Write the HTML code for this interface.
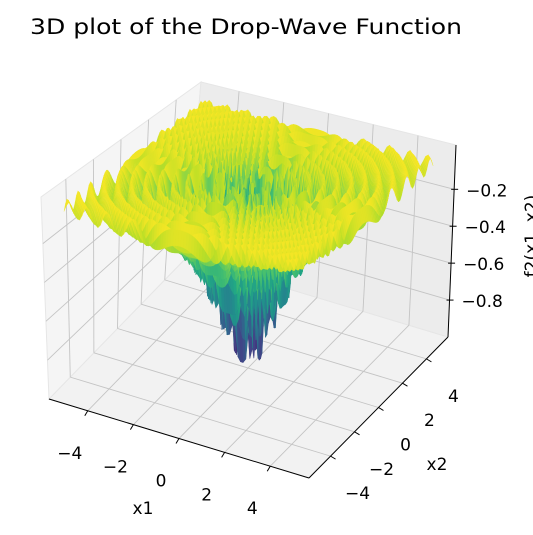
<!DOCTYPE html>
<html><head><meta charset="utf-8"><style>
body{margin:0;background:#fff;}
svg{display:block;font-family:"DejaVu Sans","Liberation Sans",sans-serif;}
</style></head><body>
<svg id="chart" width="533" height="535" viewBox="0 0 533 535">
<text x="246" y="34" font-size="21" text-anchor="middle" textLength="432" lengthAdjust="spacingAndGlyphs">3D plot of the Drop-Wave Function</text>
<g id="panes"></g><g id="grid"></g><g id="surf"></g><g id="axes"></g>
</svg>
<script>
const x1Ticks=[-4,-2,0,2,4];
const x2Ticks=[-4,-2,0,2,4];
const zTicks=[-0.2,-0.4,-0.6,-0.8];
const zTickLabels=["−0.2","−0.4","−0.6","−0.8"];
const x1TickLabels=["−4","−2","0","2","4"];
const x2TickLabels=["−4","−2","0","2","4"];
const gridN=90;
const gridMin=-5.12, gridMax=5.12;
const x1Vals=[];const x2Vals=[];
for(let i=0;i<gridN;i++){x1Vals.push(gridMin+(gridMax-gridMin)*i/(gridN-1));x2Vals.push(gridMin+(gridMax-gridMin)*i/(gridN-1));}
const zVals=x1Vals.map(a=>x2Vals.map(b=>{const r=Math.sqrt(a*a+b*b);return -(1+Math.cos(12*r))/(0.5*r*r+2);}));

const R={x1:[-5.7,5.7],x2:[-5.8,5.8],z:[-1.0,0.04]};
const B={ '00':[49,399],'10':[309,478],'11':[448,337],'01':[186,258]};
const T={ '00':[41,197],'10':[297,262],'11':[456,145],'01':[201,82]};
const NS="http://www.w3.org/2000/svg";
function lerp(a,b,t){return [a[0]+(b[0]-a[0])*t,a[1]+(b[1]-a[1])*t];}
function bil(C,u,v){return lerp(lerp(C['00'],C['10'],u),lerp(C['01'],C['11'],u),v);}
function proj(x1,x2,z){
 const u=(x1-R.x1[0])/(R.x1[1]-R.x1[0]),v=(x2-R.x2[0])/(R.x2[1]-R.x2[0]),w=(z-R.z[0])/(R.z[1]-R.z[0]);
 return lerp(bil(B,u,v),bil(T,u,v),w);
}
function mk(tag,attrs,parent){const e=document.createElementNS(NS,tag);for(const k in attrs)e.setAttribute(k,attrs[k]);document.getElementById(parent).appendChild(e);return e;}
function pts(a){return a.map(p=>p[0].toFixed(1)+','+p[1].toFixed(1)).join(' ');}
const X0=R.x1[0],X1=R.x1[1],Y0=R.x2[0],Y1=R.x2[1],Z0=R.z[0],Z1=R.z[1];
let p=mk('polygon',{points:pts([proj(X0,Y0,Z0),proj(X1,Y0,Z0),proj(X1,Y1,Z0),proj(X0,Y1,Z0)]),fill:'#f2f2f2',stroke:'#e6e6e6'},'panes');


p=mk('polygon',{points:pts([proj(X0,Y0,Z0),proj(X0,Y1,Z0),proj(X0,Y1,Z1),proj(X0,Y0,Z1)]),fill:'#f5f5f5',stroke:'#e6e6e6'},'panes');


p=mk('polygon',{points:pts([proj(X0,Y1,Z0),proj(X1,Y1,Z0),proj(X1,Y1,Z1),proj(X0,Y1,Z1)]),fill:'#ececec',stroke:'#e6e6e6'},'panes');


function gl(a,b,name){const e=mk('line',{x1:a[0],y1:a[1],x2:b[0],y2:b[1],stroke:'#c4c4c4','stroke-width':0.9},'grid');}
x1Ticks.forEach(t=>{gl(proj(t,Y0,Z0),proj(t,Y1,Z0),'x1-gridline');gl(proj(t,Y1,Z0),proj(t,Y1,Z1),'x1-wall-gridline');});
x2Ticks.forEach(t=>{gl(proj(X1,t,Z0),proj(X0,t,Z0),'x2-gridline');gl(proj(X0,t,Z0),proj(X0,t,Z1),'x2-wall-gridline');});
zTicks.forEach(t=>{gl(proj(X0,Y0,t),proj(X0,Y1,t),'z-gridline-left');gl(proj(X0,Y1,t),proj(X1,Y1,t),'z-gridline-back');});
const vir=['#440154','#482475','#414487','#355f8d','#2a788e','#21918c','#22a884','#44bf70','#7ad151','#bddf26','#fde725'];
function hex(h){return [parseInt(h.substr(1,2),16),parseInt(h.substr(3,2),16),parseInt(h.substr(5,2),16)];}
function cmap(t){t=Math.max(0,Math.min(1,t));const f=t*10,i=Math.min(9,Math.floor(f)),r=f-i;const a=hex(vir[i]),b=hex(vir[i+1]);return 'rgb('+a.map((c,k)=>Math.round(c+(b[k]-c)*r)).join(',')+')';}
let zmin=Infinity,zmax=-Infinity;zVals.forEach(r=>r.forEach(z=>{zmin=Math.min(zmin,z);zmax=Math.max(zmax,z);}));
const quads=[];
for(let i=0;i<gridN-1;i++)for(let j=0;j<gridN-1;j++){
 const zs=[zVals[i][j],zVals[i+1][j],zVals[i+1][j+1],zVals[i][j+1]];
 const zm=(zs[0]+zs[1]+zs[2]+zs[3])/4;
 quads.push({i,j,zm,d:(x1Vals[i]+x1Vals[i+1])/2-(x2Vals[j]+x2Vals[j+1])/2});
}
quads.sort((a,b)=>a.d-b.d);
quads.forEach(q=>{const {i,j}=q;
 const c=cmap((q.zm-zmin)/(zmax-zmin));
 const e=mk('polygon',{points:pts([proj(x1Vals[i],x2Vals[j],zVals[i][j]),proj(x1Vals[i+1],x2Vals[j],zVals[i+1][j]),proj(x1Vals[i+1],x2Vals[j+1],zVals[i+1][j+1]),proj(x1Vals[i],x2Vals[j+1],zVals[i][j+1])]),fill:c,stroke:c,'stroke-width':0.3},'surf');
 
 
});
function ax(a,b,name){const e=mk('line',{x1:a[0],y1:a[1],x2:b[0],y2:b[1],stroke:'#000','stroke-width':1},'axes');}
ax(proj(X0,Y0,Z0),proj(X1,Y0,Z0),'x1-axis-line');
ax(proj(X1,Y0,Z0),proj(X1,Y1,Z0),'x2-axis-line');
ax(proj(X1,Y1,Z0),proj(X1,Y1,Z1),'z-axis-line');
function txt(x,y,s,name,anchor,extra){const e=mk('text',Object.assign({x,y,'font-size':17,'text-anchor':anchor||'middle'},extra||{}),'axes');e.textContent=s;return e;}
x1Ticks.forEach((t,k)=>{const a=proj(t,Y0,Z0);ax([a[0],a[1]],[a[0]-3,a[1]+5],'x1-tick');txt(a[0]-18,a[1]+48,x1TickLabels[k],'x1-tick-label');});
x2Ticks.forEach((t,k)=>{const a=proj(X1,t,Z0);ax([a[0],a[1]],[a[0]+5,a[1]+3],'x2-tick');txt(a[0]+27,a[1]+43,x2TickLabels[k],'x2-tick-label');});
zTicks.forEach((t,k)=>{const a=proj(X1,Y1,t);ax([a[0]-3,a[1]],[a[0]+4,a[1]],'z-tick');txt(a[0]+12,a[1]+7,zTickLabels[k],'z-tick-label','start');});
txt(143,514,'x1','x1-axis-title');
txt(437,470,'x2','x2-axis-title');
txt(0,0,'f2(x1, x2)','z-axis-title','middle',{transform:'translate(537,236) rotate(-90)'});
</script>
</body></html>
